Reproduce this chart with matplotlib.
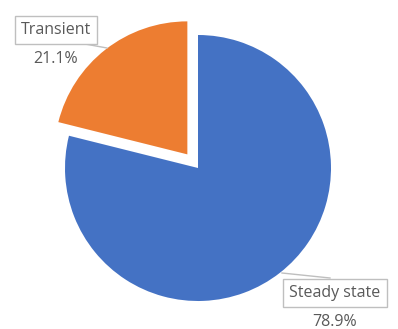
import matplotlib
matplotlib.use('Agg')
import matplotlib.pyplot as plt

labels = ["Steady state", "Transient"]
shares = [78.9, 21.1]
colors = ["#4472C4", "#ED7D31"]

W, H = 398, 329
R = 133
fig = plt.figure(figsize=(W/100, H/100), dpi=100)
ax = fig.add_axes([0, 0, 1, 1])

def y(v): return H - v  # top-down pixel rows -> data y

# explode is applied in data units here, so scale by the radius
ax.pie(shares, colors=colors, explode=[0, 0.13 * R], startangle=90, counterclock=False,
       center=(198, y(168)), radius=R, wedgeprops=dict(linewidth=0))
# pie resets the limits, so set them afterwards
ax.set_xlim(0, W); ax.set_ylim(0, H); ax.set_aspect("equal"); ax.axis("off")

txt = dict(color="#595959", fontsize=11.5, family="Open Sans", ha="center", va="center")
box = dict(boxstyle="square,pad=0.38", fc="white", ec="#BFBFBF", lw=1)

# callout labels with leader lines
ax.plot([85, 107], [y(44), y(48)], color="#BFBFBF", lw=1)
ax.plot([282, 330], [y(273), y(278)], color="#BFBFBF", lw=1)

for name, val, (cx, cy) in zip(labels, shares, [(335, 293), (56, 30)]):
    ax.text(cx, y(cy), name, bbox=box, zorder=5, **txt)
    ax.text(cx, y(cy + 29), f"{val}%", **txt)

fig.savefig("out.png", dpi=100)
